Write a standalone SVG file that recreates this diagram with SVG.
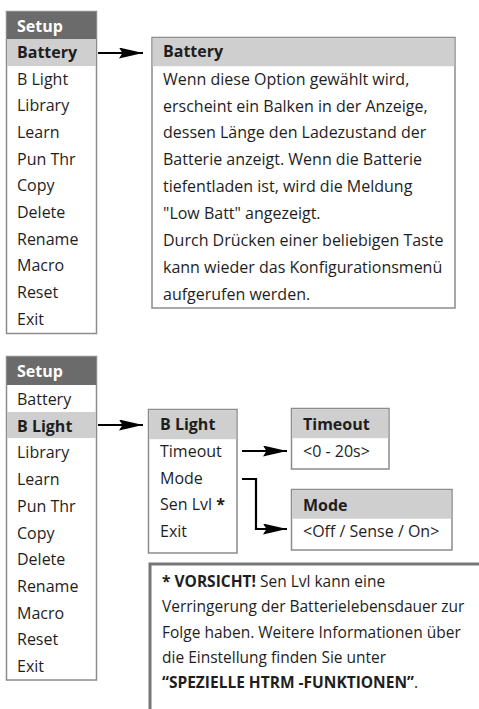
<svg xmlns="http://www.w3.org/2000/svg" width="479" height="709" viewBox="0 0 479 709">
<defs>
<style>
.box{fill:#fff;stroke:#8c8c8c;stroke-width:1.5}
.hdr{fill:#6b6b6b}
.hl{fill:#cfcfcf}
text{font-family:"Open Sans","Noto Sans","Liberation Sans",sans-serif;font-size:16px;fill:#1e1e1e}
.b{font-weight:bold}
.w{fill:#fff;font-weight:bold}
.note{font-size:15.5px}
.con{fill:none;stroke:#000;stroke-width:2.2}
</style>
<marker id="ah" markerUnits="userSpaceOnUse" markerWidth="24" markerHeight="12" refX="24" refY="5.5" orient="auto">
<path d="M0,0 L24,5.5 L0,11 L3.5,5.5 z" fill="#000"/>
</marker>
</defs>
<rect width="479" height="709" fill="#fff"/>

<g id="setup-menu-1">
<rect class="box" x="6.5" y="11.5" width="90" height="322"/>
<rect class="hdr" x="7" y="12" width="89" height="27"/>
<rect class="hl" x="7" y="39" width="89" height="27"/>
<text class="w" x="17" y="32">Setup</text>
<text class="b" x="17" y="58">Battery</text>
<text x="17" y="85">B Light</text>
<text x="17" y="111">Library</text>
<text x="17" y="138">Learn</text>
<text x="17" y="165">Pun Thr</text>
<text x="17" y="191">Copy</text>
<text x="17" y="218">Delete</text>
<text x="17" y="245">Rename</text>
<text x="17" y="271">Macro</text>
<text x="17" y="298">Reset</text>
<text x="17" y="325">Exit</text>
</g>

<g id="battery-box">
<rect class="box" x="152" y="37.5" width="303" height="270.5"/>
<rect class="hl" x="152.7" y="38.2" width="301.6" height="28"/>
<text class="b" x="163" y="57">Battery</text>
<text x="163" y="85">Wenn diese Option gewählt wird,</text>
<text x="163" y="112">erscheint ein Balken in der Anzeige,</text>
<text x="163" y="138">dessen Länge den Ladezustand der</text>
<text x="163" y="165">Batterie anzeigt. Wenn die Batterie</text>
<text x="163" y="192">tiefentladen ist, wird die Meldung</text>
<text x="163" y="219">"Low Batt" angezeigt.</text>
<text x="163" y="246">Durch Drücken einer beliebigen Taste</text>
<text x="163" y="273">kann wieder das Konfigurationsmenü</text>
<text x="163" y="300">aufgerufen werden.</text>
</g>

<g id="setup-menu-2">
<rect class="box" x="6.5" y="356.5" width="90" height="323.5"/>
<rect class="hdr" x="7" y="357" width="89" height="28"/>
<rect class="hl" x="7" y="412" width="89" height="26"/>
<text class="w" x="17" y="377">Setup</text>
<text x="17" y="405">Battery</text>
<text class="b" x="17" y="432">B Light</text>
<text x="17" y="458">Library</text>
<text x="17" y="485">Learn</text>
<text x="17" y="512">Pun Thr</text>
<text x="17" y="539">Copy</text>
<text x="17" y="565">Delete</text>
<text x="17" y="592">Rename</text>
<text x="17" y="619">Macro</text>
<text x="17" y="645">Reset</text>
<text x="17" y="672">Exit</text>
</g>

<g id="blight-box">
<rect class="box" x="148.5" y="409.5" width="88.5" height="143.5"/>
<rect class="hl" x="149.2" y="410.2" width="87" height="29"/>
<text class="b" x="160" y="430">B Light</text>
<text x="160" y="457">Timeout</text>
<text x="160" y="484">Mode</text>
<text x="160" y="510">Sen Lvl <tspan class="b">*</tspan></text>
<text x="160" y="537">Exit</text>
</g>

<g id="timeout-box">
<rect class="box" x="291.5" y="408.5" width="97.5" height="60.5"/>
<rect class="hl" x="292.2" y="409.2" width="96" height="29"/>
<text class="b" x="303" y="430">Timeout</text>
<text x="303" y="457">&lt;0 - 20s&gt;</text>
</g>

<g id="mode-box">
<rect class="box" x="291.5" y="489.5" width="160.5" height="60.5"/>
<rect class="hl" x="292.2" y="490.2" width="159" height="28.5"/>
<text class="b" x="303" y="511">Mode</text>
<text x="303" y="537">&lt;Off / Sense / On&gt;</text>
</g>

<g id="warning-box">
<path d="M150,709 V564 H479" fill="none" stroke="#767676" stroke-width="3"/>
<text class="note" x="162" y="587"><tspan class="b">* VORSICHT!</tspan> Sen Lvl kann eine</text>
<text class="note" x="162" y="612">Verringerung der Batterielebensdauer zur</text>
<text class="note" x="162" y="638">Folge haben. Weitere Informationen über</text>
<text class="note" x="162" y="663">die Einstellung finden Sie unter</text>
<text class="note" x="162" y="688"><tspan class="b">“SPEZIELLE HTRM -FUNKTIONEN”</tspan>.</text>
</g>

<g id="connectors">
<path class="con" d="M98,53 H143" marker-end="url(#ah)"/>
<path class="con" d="M98,425 H143" marker-end="url(#ah)"/>
<path class="con" d="M242,451 H287" marker-end="url(#ah)"/>
<path class="con" d="M242,479 H256 V529 H287" marker-end="url(#ah)"/>
</g>
</svg>
